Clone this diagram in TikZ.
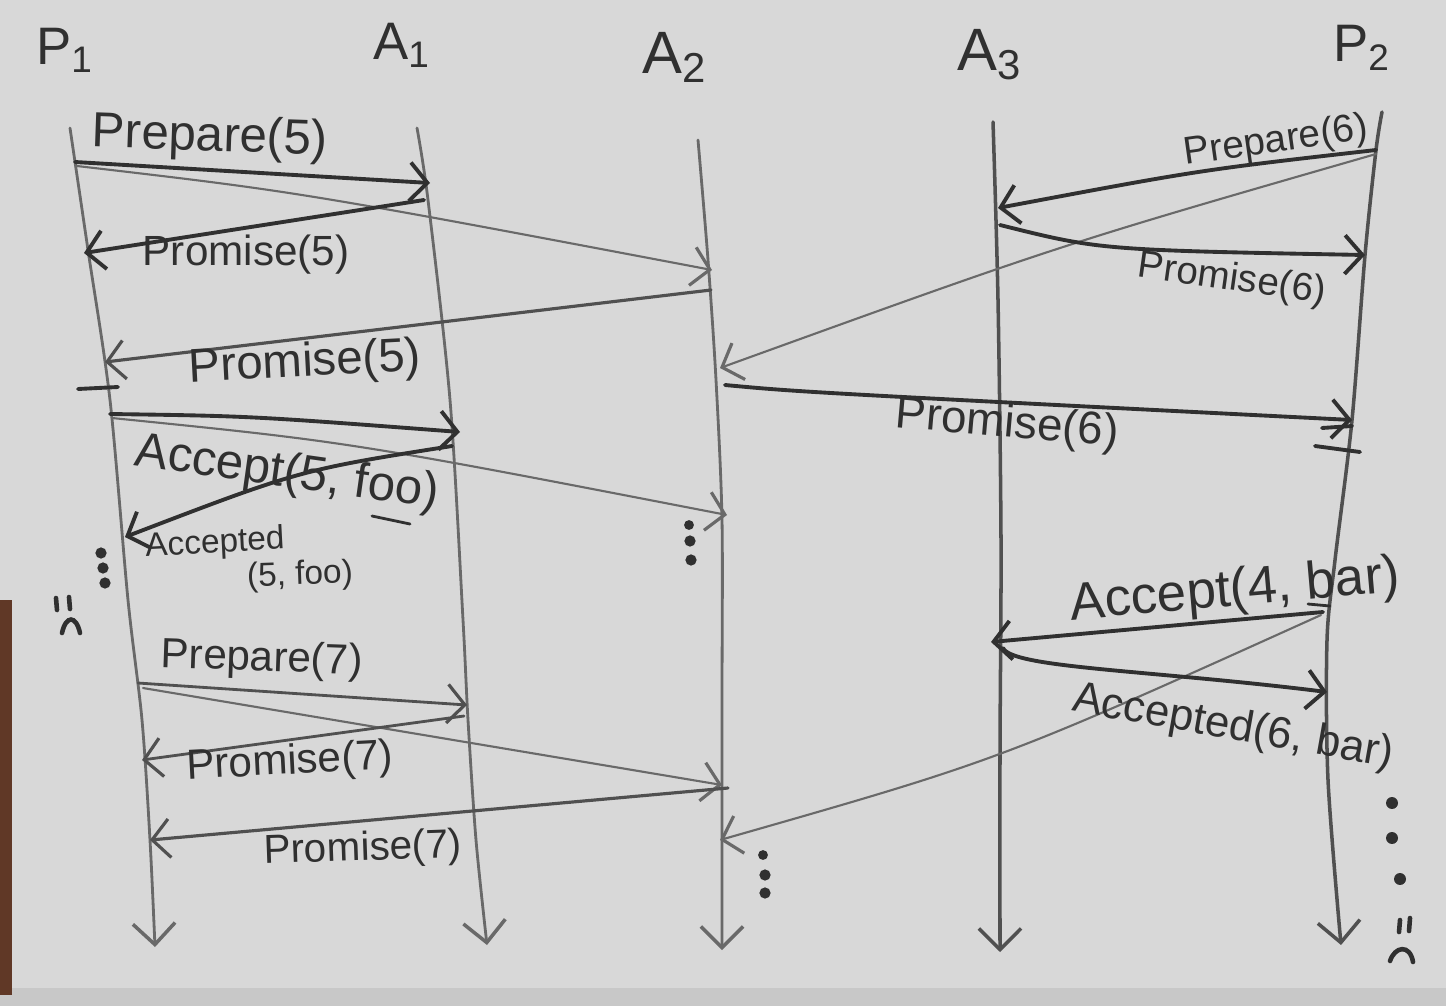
\documentclass[tikz,border=0pt]{standalone}
\usepackage{fontspec}
\setmainfont{Liberation Sans}
\usetikzlibrary{arrows.meta}
\definecolor{paper}{RGB}{216,216,216}
\definecolor{paperdark}{RGB}{200,200,200}
\definecolor{woodbrown}{RGB}{96,56,38}
\definecolor{ink}{RGB}{48,48,48}
\definecolor{inkmid}{RGB}{80,80,80}
\definecolor{inklight}{RGB}{105,105,105}
\newcommand{\fsz}[1]{\fontsize{#1}{#1}\selectfont}
\begin{document}
\begin{tikzpicture}[x=0.01cm,y=-0.01cm,
  lifeline/.style={draw=inklight, line width=0.8pt, line cap=round,
    -{Straight Barb[length=6pt,width=12pt,line width=1pt]}},
  darkline/.style={lifeline, draw=inkmid, line width=1pt},
  msg/.style={draw=ink, line width=1.1pt, line cap=round,
    -{Straight Barb[length=5pt,width=11pt]}},
  thinmsg/.style={draw=inklight, line width=0.6pt, line cap=round,
    -{Straight Barb[length=5pt,width=11pt,line width=0.9pt]}},
  lbl/.style={inner sep=0pt, text=ink},
  head/.style={lbl, font=\fsz{15}},
  penstroke/.style={draw=ink, line width=1.1pt, line cap=round},
  dotmark/.style={fill=ink}
]
% paper
\fill[paper] (0,0) rectangle (1446,1006);
\fill[paperdark] (0,988) rectangle (1446,1006);
\fill[woodbrown] (0,600) rectangle (12,995);
\useasboundingbox (0,0) rectangle (1446,1006);

% headers
\node[head] (hp1) at (65,50) {P\textsubscript{1}};
\node[head] (ha1) at (402,45) {A\textsubscript{1}};
\node[head, font=\fsz{17}] (ha2) at (675,57) {A\textsubscript{2}};
\node[head, font=\fsz{17}] (ha3) at (990,55) {A\textsubscript{3}};
\node[head] (hp2) at (1362,48) {P\textsubscript{2}};

% lifelines
\draw[lifeline] plot[smooth] coordinates {(70,128) (88,250) (110,400) (128,600) (142,720) (150,840) (155,947)};
\draw[lifeline] plot[smooth] coordinates {(417,128) (428,200) (450,400) (463,620) (468,720) (476,840) (487,945)};
\draw[lifeline] plot[smooth] coordinates {(698,140) (708,260) (716,380) (722,520) (722,700) (722,950)};
\draw[darkline] plot[smooth] coordinates {(993,122) (998,300) (1001,540) (1000,750) (1000,952)};
\draw[darkline] plot[smooth] coordinates {(1382,112) (1376,150) (1365,255) (1352,420) (1335,560) (1327,640) (1328,780) (1341,945)};

% message end points
\coordinate (a1) at (75,162);   \coordinate (a2) at (430,183);
\coordinate (b1) at (77,166);   \coordinate (b2) at (712,270);
\coordinate (c1) at (424,200);  \coordinate (c2) at (84,253);
\coordinate (d1) at (711,290);  \coordinate (d2) at (105,362);
\coordinate (e1) at (110,414);  \coordinate (e2) at (460,432);
\coordinate (f1) at (112,418);  \coordinate (f2) at (727,515);
\coordinate (g1) at (452,446);  \coordinate (g2) at (125,537);
\coordinate (h1) at (138,683);  \coordinate (h2) at (467,705);
\coordinate (i1) at (143,688);  \coordinate (i2) at (722,785);
\coordinate (j1) at (464,716);  \coordinate (j2) at (142,760);
\coordinate (k1) at (728,788);  \coordinate (k2) at (150,840);
\coordinate (m1) at (1376,150); \coordinate (m2) at (998,208);
\coordinate (n1) at (1376,154); \coordinate (n2) at (720,368);
\coordinate (o1) at (1000,225); \coordinate (o2) at (1365,255);
\coordinate (q1) at (725,385);  \coordinate (q2) at (1352,420);
\coordinate (r1) at (1323,612); \coordinate (r2) at (991,642);
\coordinate (s1) at (1321,615); \coordinate (s2) at (720,840);
\coordinate (t1) at (1003,648); \coordinate (t2) at (1327,692);

% messages
\draw[msg] (a1) -- (a2);
\draw[thinmsg] (b1) .. controls (300,192) .. (b2);
\draw[msg] (c1) -- (c2);
\draw[msg, draw=inkmid, line width=0.9pt] (d1) -- (d2);
\draw[msg] (e1) .. controls (250,416) .. (e2);
\draw[thinmsg] (f1) .. controls (350,442) .. (f2);
\draw[msg] (g1) .. controls (300,470) .. (g2);
\draw[thinmsg, draw=inkmid, line width=0.8pt] (h1) -- (h2);
\draw[thinmsg] (i1) -- (i2);
\draw[thinmsg, draw=inkmid, line width=0.8pt] (j1) -- (j2);
\draw[msg, draw=inkmid, line width=0.9pt] (k1) -- (k2);
\draw[msg] (m1) .. controls (1200,170) .. (m2);
\draw[thinmsg] (n1) .. controls (1060,245) .. (n2);
\draw[msg] (o1) .. controls (1100,250) .. (o2);
\draw[msg] (q1) .. controls (800,392) .. (q2);
\draw[msg] (r1) -- (r2);
\draw[thinmsg] (s1) .. controls (1000,760) .. (s2);
\draw[msg] (t1) .. controls (1012,668) and (1150,670) .. (t2);

% labels
\node[lbl, font=\fsz{14}, rotate=-2] (l1) at (210,138) {Prepare(5)};
\node[lbl, font=\fsz{12}] (l2) at (246,255) {Promise(5)};
\node[lbl, font=\fsz{13.5}, rotate=3] (l3) at (305,364) {Promise(5)};
\node[lbl, font=\fsz{14}, rotate=-8] (l4) at (287,474) {Accept(5, foo)};
\node[lbl, font=\fsz{9.5}, rotate=3] (l5a) at (215,544) {Accepted};
\node[lbl, font=\fsz{9.5}, rotate=2] (l5b) at (300,576) {(5, foo)};
\node[lbl, font=\fsz{12}, rotate=-2] (l6) at (262,660) {Prepare(7)};
\node[lbl, font=\fsz{12}, rotate=3] (l7) at (290,763) {Promise(7)};
\node[lbl, font=\fsz{11.5}, rotate=2] (l8) at (363,850) {Promise(7)};
\node[lbl, font=\fsz{11}, rotate=8] (l9) at (1276,142) {Prepare(6)};
\node[lbl, font=\fsz{11}, rotate=-8] (l10) at (1232,280) {Promise(6)};
\node[lbl, font=\fsz{13}, rotate=-5] (l11) at (1007,425) {Promise(6)};
\node[lbl, font=\fsz{15}, rotate=5] (l12) at (1235,592) {Accept(4, bar)};
\node[lbl, font=\fsz{12.5}, rotate=-10] (l13) at (1233,728) {Accepted(6, bar)};

% tick marks and underlines
\draw[penstroke] (78,389) -- (118,387);
\draw[penstroke] (1322,428) -- (1352,426);
\draw[penstroke] (1315,446) -- (1360,452);
\draw[penstroke, line width=0.8pt] (372,516) -- (410,524);
\draw[penstroke, line width=0.8pt] (1308,604) -- (1330,606);

% dots
\fill[dotmark] (101,553) circle (1.6pt);
\fill[dotmark] (103,568) circle (1.6pt);
\fill[dotmark] (105,583) circle (1.6pt);
\fill[dotmark] (689,525) circle (1.4pt);
\fill[dotmark] (690,541) circle (1.6pt);
\fill[dotmark] (691,560) circle (1.6pt);
\fill[dotmark] (763,855) circle (1.4pt);
\fill[dotmark] (765,875) circle (1.6pt);
\fill[dotmark] (765,893) circle (1.6pt);
\fill[dotmark] (1392,803) circle (1.7pt);
\fill[dotmark] (1392,838) circle (1.7pt);
\fill[dotmark] (1400,879) circle (1.7pt);

% frowning faces
\draw[penstroke, line width=1.3pt] (56,598) -- (57,610);
\draw[penstroke, line width=1.3pt] (69,597) -- (70,609);
\draw[penstroke, line width=1.3pt] (62,633) .. controls (66,615) and (76,615) .. (80,633);
\draw[penstroke, line width=1.3pt] (1400,920) -- (1399,932);
\draw[penstroke, line width=1.3pt] (1410,918) -- (1409,931);
\draw[penstroke, line width=1.3pt] (1390,961) .. controls (1395,946) and (1410,944) .. (1413,962);
\end{tikzpicture}
\end{document}
